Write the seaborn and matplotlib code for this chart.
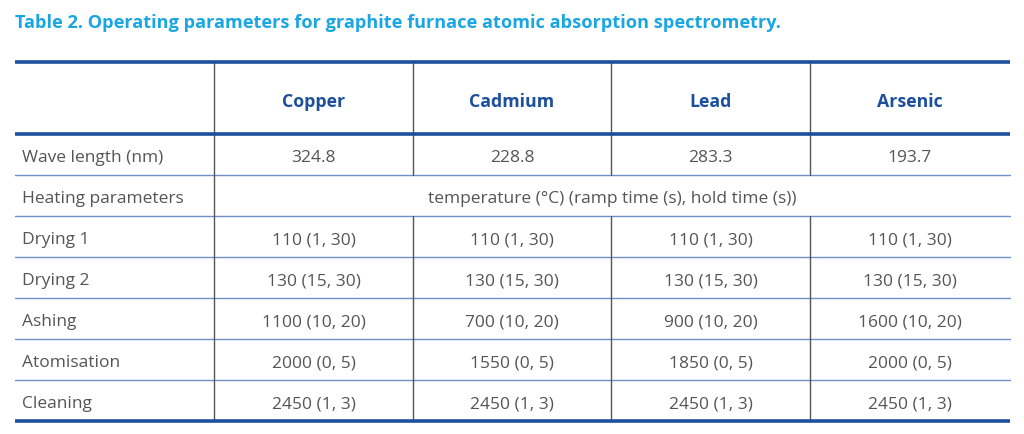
import matplotlib
matplotlib.use("Agg")
from matplotlib import pyplot as plt
import seaborn as sns

title = "Table 2. Operating parameters for graphite furnace atomic absorption spectrometry."
elements = ["Copper", "Cadmium", "Lead", "Arsenic"]
wave_length = ["324.8", "228.8", "283.3", "193.7"]
heating_note = "temperature (°C) (ramp time (s), hold time (s))"
steps = ["Drying 1", "Drying 2", "Ashing", "Atomisation", "Cleaning"]
copper = ["110 (1, 30)", "130 (15, 30)", "1100 (10, 20)", "2000 (0, 5)", "2450 (1, 3)"]
cadmium = ["110 (1, 30)", "130 (15, 30)", "700 (10, 20)", "1550 (0, 5)", "2450 (1, 3)"]
lead = ["110 (1, 30)", "130 (15, 30)", "900 (10, 20)", "1850 (0, 5)", "2450 (1, 3)"]
arsenic = ["110 (1, 30)", "130 (15, 30)", "1600 (10, 20)", "2000 (0, 5)", "2450 (1, 3)"]

sns.set_theme(style="white")
plt.rcParams['font.family'] = ['Open Sans', 'DejaVu Sans']

DARK = "#1c4f9c"
ROWLINE = "#6f8fc8"
VLINE = "#555555"
TEXT = "#555555"
TITLE = "#1aa5e3"

fig = plt.figure(figsize=(10.24, 4.35), dpi=100)
ax = fig.add_axes([0, 0, 1, 1])
ax.set_xlim(0, 1024)
ax.set_ylim(435, 0)
ax.axis("off")

cols = [15, 214, 413, 611, 810, 1010]
top, head_bottom, row_h = 63, 135, 41
n_rows = 2 + len(steps)
bottom = head_bottom + n_rows * row_h

ax.text(15, 23, title, color=TITLE, fontsize=13.1, fontweight="bold", va="center", ha="left")

# thin row separators
for i in range(1, n_rows):
    y = head_bottom + i * row_h
    ax.plot([cols[0], cols[-1]], [y, y], color=ROWLINE, lw=1.0)

# vertical lines (heating row spans data columns)
for x in cols[1:-1]:
    if x == cols[1]:
        ax.plot([x, x], [top, bottom], color=VLINE, lw=1.0)
    else:
        ax.plot([x, x], [top, head_bottom + row_h], color=VLINE, lw=1.0)
        ax.plot([x, x], [head_bottom + 2 * row_h, bottom], color=VLINE, lw=1.0)

# thick lines
for y in [top, head_bottom, bottom]:
    ax.plot([cols[0], cols[-1]], [y, y], color=DARK, lw=2.6, solid_capstyle="butt")

centers = [(cols[i] + cols[i + 1]) / 2 for i in range(len(cols) - 1)]
fs = 12.5

for j, name in enumerate(elements):
    ax.text(centers[j + 1], (top + head_bottom) / 2 + 3, name, color=DARK, fontsize=12.8,
            fontweight="bold", ha="center", va="center")

def row_y(i):
    return head_bottom + (i + 0.5) * row_h + 3

ax.text(cols[0] + 7, row_y(0), "Wave length (nm)", color=TEXT, fontsize=fs, va="center")
for j, v in enumerate(wave_length):
    ax.text(centers[j + 1], row_y(0), v, color=TEXT, fontsize=fs, ha="center", va="center")

ax.text(cols[0] + 7, row_y(1), "Heating parameters", color=TEXT, fontsize=fs, va="center")
ax.text((cols[1] + cols[-1]) / 2, row_y(1), heating_note, color=TEXT, fontsize=fs,
        ha="center", va="center")

series = [copper, cadmium, lead, arsenic]
for i, step in enumerate(steps):
    y = row_y(i + 2)
    ax.text(cols[0] + 7, y, step, color=TEXT, fontsize=fs, va="center")
    for j, s in enumerate(series):
        ax.text(centers[j + 1], y, s[i], color=TEXT, fontsize=fs, ha="center", va="center")

fig.savefig("out.png", dpi=100, facecolor="white")
